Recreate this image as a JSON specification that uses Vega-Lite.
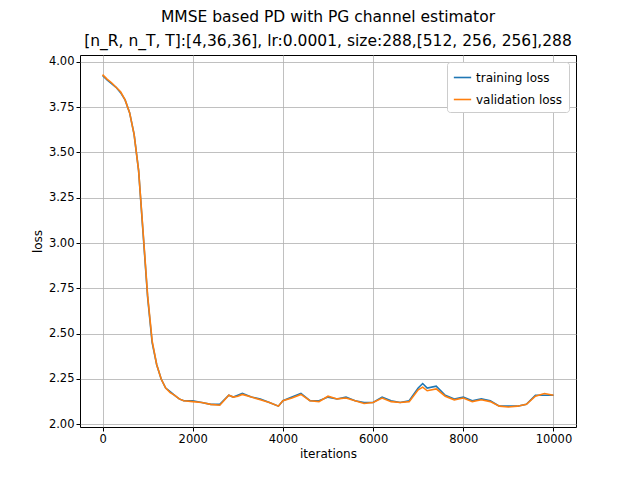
{
  "$schema": "https://vega.github.io/schema/vega-lite/v6.json",
  "width": 496,
  "height": 372,
  "autosize": "none",
  "padding": {"left": 80, "top": 55, "right": 64, "bottom": 53},
  "background": "white",
  "title": {
    "text": ["MMSE based PD with PG channel estimator", "[n_R, n_T, T]:[4,36,36], lr:0.0001, size:288,[512, 256, 256],288"],
    "fontSize": 15.5, "fontWeight": "normal", "font": "DejaVu Sans", "offset": 6, "lineHeight": 24, "anchor": "middle", "color": "black"
  },
  "data": {"values": [
    {"it":0,"training loss":3.925,"validation loss":3.93},
    {"it":100,"training loss":3.9,"validation loss":3.905},
    {"it":200,"training loss":3.88,"validation loss":3.885},
    {"it":300,"training loss":3.86,"validation loss":3.86},
    {"it":400,"training loss":3.83,"validation loss":3.835},
    {"it":500,"training loss":3.79,"validation loss":3.79},
    {"it":600,"training loss":3.72,"validation loss":3.72},
    {"it":700,"training loss":3.6,"validation loss":3.6},
    {"it":800,"training loss":3.4,"validation loss":3.4},
    {"it":900,"training loss":3.05,"validation loss":3.06},
    {"it":1000,"training loss":2.7,"validation loss":2.71},
    {"it":1100,"training loss":2.45,"validation loss":2.46},
    {"it":1200,"training loss":2.33,"validation loss":2.33},
    {"it":1300,"training loss":2.25,"validation loss":2.25},
    {"it":1400,"training loss":2.2,"validation loss":2.2},
    {"it":1500,"training loss":2.18,"validation loss":2.175},
    {"it":1600,"training loss":2.16,"validation loss":2.16},
    {"it":1700,"training loss":2.14,"validation loss":2.14},
    {"it":1800,"training loss":2.13,"validation loss":2.13},
    {"it":2000,"training loss":2.13,"validation loss":2.125},
    {"it":2200,"training loss":2.12,"validation loss":2.12},
    {"it":2400,"training loss":2.11,"validation loss":2.11},
    {"it":2600,"training loss":2.11,"validation loss":2.105},
    {"it":2800,"training loss":2.16,"validation loss":2.16},
    {"it":2900,"training loss":2.15,"validation loss":2.15},
    {"it":3000,"training loss":2.16,"validation loss":2.155},
    {"it":3100,"training loss":2.17,"validation loss":2.165},
    {"it":3300,"training loss":2.15,"validation loss":2.15},
    {"it":3500,"training loss":2.14,"validation loss":2.135},
    {"it":3700,"training loss":2.12,"validation loss":2.12},
    {"it":3900,"training loss":2.1,"validation loss":2.1},
    {"it":4000,"training loss":2.13,"validation loss":2.13},
    {"it":4200,"training loss":2.15,"validation loss":2.145},
    {"it":4400,"training loss":2.17,"validation loss":2.165},
    {"it":4600,"training loss":2.13,"validation loss":2.13},
    {"it":4800,"training loss":2.13,"validation loss":2.125},
    {"it":5000,"training loss":2.15,"validation loss":2.155},
    {"it":5200,"training loss":2.14,"validation loss":2.14},
    {"it":5400,"training loss":2.15,"validation loss":2.145},
    {"it":5600,"training loss":2.13,"validation loss":2.13},
    {"it":5800,"training loss":2.12,"validation loss":2.115},
    {"it":6000,"training loss":2.12,"validation loss":2.12},
    {"it":6200,"training loss":2.15,"validation loss":2.145},
    {"it":6400,"training loss":2.13,"validation loss":2.125},
    {"it":6600,"training loss":2.12,"validation loss":2.12},
    {"it":6800,"training loss":2.13,"validation loss":2.125},
    {"it":7000,"training loss":2.2,"validation loss":2.19},
    {"it":7100,"training loss":2.225,"validation loss":2.205},
    {"it":7200,"training loss":2.2,"validation loss":2.185},
    {"it":7400,"training loss":2.21,"validation loss":2.195},
    {"it":7600,"training loss":2.16,"validation loss":2.155},
    {"it":7800,"training loss":2.14,"validation loss":2.135},
    {"it":8000,"training loss":2.15,"validation loss":2.145},
    {"it":8200,"training loss":2.13,"validation loss":2.125},
    {"it":8400,"training loss":2.14,"validation loss":2.135},
    {"it":8600,"training loss":2.13,"validation loss":2.125},
    {"it":8800,"training loss":2.1,"validation loss":2.1},
    {"it":9000,"training loss":2.1,"validation loss":2.095},
    {"it":9200,"training loss":2.1,"validation loss":2.1},
    {"it":9400,"training loss":2.11,"validation loss":2.11},
    {"it":9600,"training loss":2.16,"validation loss":2.155},
    {"it":9800,"training loss":2.16,"validation loss":2.17},
    {"it":10000,"training loss":2.16,"validation loss":2.16}
  ]},
  "transform": [{"fold": ["training loss", "validation loss"], "as": ["series", "loss"]}],
  "mark": {"type": "line", "strokeWidth": 1.6, "clip": true},
  "encoding": {
    "x": {"field": "it", "type": "quantitative", "scale": {"domain": [-500, 10500], "nice": false},
      "axis": {"title": "iterations", "values": [0, 2000, 4000, 6000, 8000, 10000], "format": "d"}},
    "y": {"field": "loss", "type": "quantitative", "scale": {"domain": [1.985, 4.038], "nice": false, "zero": false},
      "axis": {"title": "loss", "values": [2, 2.25, 2.5, 2.75, 3, 3.25, 3.5, 3.75, 4], "format": ".2f"}},
    "color": {"field": "series", "type": "nominal", "scale": {"range": ["#1f77b4", "#ff7f0e"]},
      "legend": {"title": null, "orient": "top-right", "symbolType": "stroke", "symbolStrokeWidth": 1.6, "symbolSize": 300,
        "labelFontSize": 12, "labelColor": "black", "padding": 6, "strokeColor": "#cccccc", "fillColor": "white", "cornerRadius": 3, "offset": 7, "rowPadding": 6}}
  },
  "config": {
    "font": "DejaVu Sans",
    "view": {"stroke": "black", "strokeWidth": 1},
    "axis": {"grid": true, "gridColor": "#b0b0b0", "gridOpacity": 1, "gridWidth": 0.8, "domain": false, "tickColor": "black", "tickSize": 4,
      "labelFontSize": 11.5, "labelColor": "black", "titleFontSize": 12, "titleFontWeight": "normal", "titleColor": "black", "labelFont": "DejaVu Sans", "titleFont": "DejaVu Sans"},
    "legend": {"labelFont": "DejaVu Sans"}
  }
}
